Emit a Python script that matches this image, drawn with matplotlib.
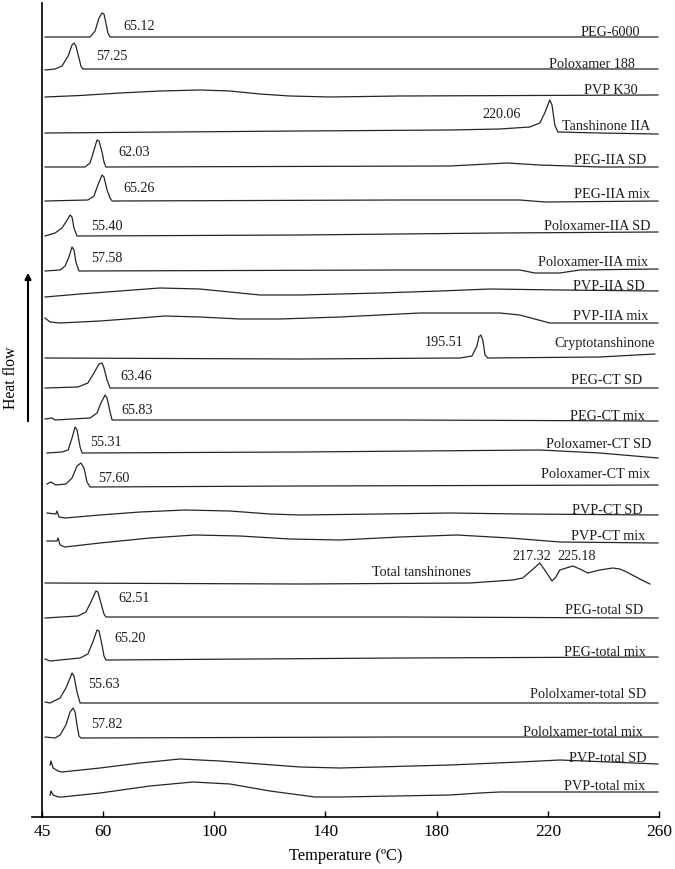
# DSC thermograms, stacked traces (tanshinones / carrier dispersions)
import matplotlib
matplotlib.use("Agg")
import matplotlib.pyplot as plt

plt.rcParams['font.family'] = ['Liberation Serif', 'DejaVu Serif']

# ---- data: temperature (axis units) and stacked heat-flow values per trace ----
peg6000_t = [39.1, 51.7, 55.3, 57.1, 58.5, 59.6, 60.3, 61.0, 61.7, 62.5, 94.8, 166.8, 259.6]
peg6000_y = [780, 780, 780, 786, 799, 804, 803, 794, 784, 780, 780, 780, 780]

polox188_t = [39.1, 42.7, 45.2, 47.4, 48.8, 49.5, 50.2, 51.3, 52.0, 52.7, 130.8, 259.6]
polox188_y = [747, 748, 751, 761, 772, 774, 771, 759, 751, 748, 748, 748]

pvpk30_t = [39.1, 51.7, 66.1, 80.4, 94.8, 105.6, 116.4, 127.2, 141.6, 166.8, 259.6]
pvpk30_y = [720, 721.5, 724, 726, 727, 726, 723, 721, 720, 721, 722]

tan2a_t = [39.1, 130.8, 184.8, 202.7, 213.5, 217.1, 218.9, 220.7, 221.5, 222.5, 223.6, 238.7, 259.6]
tan2a_y = [684, 686, 687, 688, 690, 694, 704, 717, 712, 692, 685, 684, 683]

peg_2a_sd_t = [39.1, 53.5, 55.3, 56.7, 57.8, 58.5, 59.6, 60.3, 61.0, 184.8, 205.3, 217.1, 238.7, 259.6]
peg_2a_sd_y = [650, 650, 654, 667, 677, 676, 665, 655, 650, 651, 654, 652, 650, 650]

peg_2a_mix_t = [39.1, 54.5, 56.7, 58.1, 59.6, 60.3, 61.4, 62.5, 63.2, 166.8, 209.9, 218.9, 259.6]
peg_2a_mix_y = [616, 617, 621, 632, 642, 640, 627, 619, 616, 617, 617, 615, 616]

pol_2a_sd_t = [39.1, 42.7, 45.2, 46.6, 48.1, 48.8, 49.5, 50.6, 130.8, 202.7, 259.6]
pol_2a_sd_y = [581, 584, 589, 595, 602, 600, 589, 581, 582, 584, 585]

pol_2a_mix_t = [39.1, 44.5, 46.3, 47.7, 48.8, 49.5, 50.2, 51.3, 166.8, 209.9, 215.3, 224.3, 231.5, 259.6]
pol_2a_mix_y = [546, 547, 551, 560, 570, 567, 555, 546, 547, 547, 544, 544, 547, 548]

pvp_2a_sd_t = [39.1, 51.7, 66.1, 80.4, 94.8, 105.6, 116.4, 130.8, 159.6, 181.2, 199.2, 224.3, 259.6]
pvp_2a_sd_y = [520, 523, 526, 529, 528, 525, 522, 522, 524, 526, 528, 527, 526]

pvp_2a_mix_t = [39.1, 40.9, 44.5, 58.9, 73.3, 82.2, 94.8, 109.2, 123.6, 145.2, 174.0, 202.7,
                209.9, 215.3, 220.7, 259.6]
pvp_2a_mix_y = [499, 495, 494, 496, 499, 501, 500, 498, 498, 500, 504, 504,
                502, 498, 494, 494]

crypto_t = [39.1, 130.8, 188.4, 192.7, 194.5, 195.2, 195.9, 196.6, 197.4, 198.4, 238.7, 258.5]
crypto_y = [459, 458, 459, 461, 471, 480, 482, 477, 462, 459, 460, 463]

peg_ct_sd_t = [39.1, 50.9, 54.5, 56.7, 58.5, 59.6, 60.3, 61.4, 62.5, 166.8, 259.6]
peg_ct_sd_y = [429, 430, 434, 444, 453, 454, 449, 437, 429, 429, 429]

peg_ct_mix_t = [39.1, 41.6, 42.7, 55.3, 57.8, 59.2, 60.7, 61.4, 62.5, 63.2, 166.8, 259.6]
peg_ct_mix_y = [398, 399, 397, 399, 404, 414, 422, 419, 405, 397, 397, 396]

pol_ct_sd_t = [39.8, 45.2, 47.4, 48.8, 49.9, 50.6, 51.7, 52.4, 130.8, 217.1, 238.7, 259.6]
pol_ct_sd_y = [364, 365, 367, 379, 390, 387, 370, 364, 365, 367, 364, 359]

pol_ct_mix_t = [39.8, 41.2, 43.0, 46.6, 48.8, 50.6, 52.0, 53.1, 54.2, 55.3, 130.8, 259.6]
pol_ct_mix_y = [333, 335, 332, 333, 339, 351, 354, 349, 335, 330, 331, 332]

pvp_ct_sd_t = [39.8, 43.0, 43.4, 44.1, 46.3, 58.9, 73.3, 89.4, 105.6, 120.0, 130.8, 159.6,
               184.8, 209.9, 259.6]
pvp_ct_sd_y = [304, 303, 306, 300, 299, 302, 305, 307, 306, 303, 302, 303,
               304, 303, 302]

pvp_ct_mix_t = [39.8, 43.4, 43.8, 44.5, 46.3, 58.9, 76.8, 93.0, 109.2, 127.2, 145.2, 166.8,
                187.3, 206.3, 224.3, 259.6]
pvp_ct_mix_y = [276, 276, 279, 272, 270, 274, 279, 282, 281, 278, 277, 280,
                282, 279, 275, 274]

total_t = [39.1, 130.8, 192.0, 207.4, 211.0, 214.3, 217.1, 218.9, 221.5, 222.9, 224.3, 229.0,
           231.5, 234.4, 238.7, 243.4, 245.9, 248.4, 253.1, 256.7]
total_y = [234, 233, 234, 237, 239, 247, 254, 247, 236, 240, 247, 251,
           248, 244, 247, 249, 248, 245, 238, 233]

peg_tot_sd_t = [39.1, 50.9, 53.8, 55.6, 57.4, 58.1, 59.2, 60.3, 61.0, 166.8, 259.6]
peg_tot_sd_y = [199, 201, 205, 215, 226, 225, 214, 203, 200, 200, 199]

peg_tot_mix_t = [39.1, 40.9, 51.7, 54.5, 56.3, 57.8, 58.5, 59.6, 60.3, 61.0, 166.8, 259.6]
peg_tot_mix_y = [158, 156, 159, 163, 175, 187, 186, 172, 161, 157, 159, 160]

pol_tot_sd_t = [39.1, 40.9, 44.5, 46.6, 48.1, 48.8, 49.5, 50.6, 51.7, 166.8, 259.6]
pol_tot_sd_y = [115, 114, 119, 129, 139, 144, 141, 125, 114, 114, 114]

pol_tot_mix_t = [39.1, 42.7, 44.5, 46.6, 48.1, 49.2, 49.9, 50.6, 51.3, 52.0, 166.8, 259.6]
pol_tot_mix_y = [80, 79, 82, 92, 105, 109, 105, 92, 81, 79, 80, 80]

pvp_tot_sd_t = [40.9, 41.2, 42.0, 43.8, 45.2, 58.9, 73.3, 87.6, 102.0, 116.4, 130.8, 145.2,
                184.8, 209.9, 224.3, 259.6]
pvp_tot_sd_y = [52, 56, 49, 46, 45, 49, 54, 58, 56, 53, 50, 49,
                52, 55, 57, 53]

pvp_tot_mix_t = [40.9, 41.2, 42.0, 43.8, 45.2, 58.9, 76.8, 92.3, 105.6, 120.0, 136.2, 145.2,
                 184.8, 195.6, 202.7, 259.6]
pvp_tot_mix_y = [22, 26, 22, 20, 20, 24, 31, 35, 33, 26, 20, 20,
                 22, 24, 25, 25]

curves = [
    (peg6000_t, peg6000_y), (polox188_t, polox188_y), (pvpk30_t, pvpk30_y),
    (tan2a_t, tan2a_y), (peg_2a_sd_t, peg_2a_sd_y), (peg_2a_mix_t, peg_2a_mix_y),
    (pol_2a_sd_t, pol_2a_sd_y), (pol_2a_mix_t, pol_2a_mix_y), (pvp_2a_sd_t, pvp_2a_sd_y),
    (pvp_2a_mix_t, pvp_2a_mix_y), (crypto_t, crypto_y), (peg_ct_sd_t, peg_ct_sd_y),
    (peg_ct_mix_t, peg_ct_mix_y), (pol_ct_sd_t, pol_ct_sd_y), (pol_ct_mix_t, pol_ct_mix_y),
    (pvp_ct_sd_t, pvp_ct_sd_y), (pvp_ct_mix_t, pvp_ct_mix_y), (total_t, total_y),
    (peg_tot_sd_t, peg_tot_sd_y), (peg_tot_mix_t, peg_tot_mix_y),
    (pol_tot_sd_t, pol_tot_sd_y), (pol_tot_mix_t, pol_tot_mix_y),
    (pvp_tot_sd_t, pvp_tot_sd_y), (pvp_tot_mix_t, pvp_tot_mix_y),
]

# sample names, placed at the right end of each trace
sample_names = ["PEG-6000", "Poloxamer 188", "PVP K30", "Tanshinone IIA", "PEG-IIA SD",
                "PEG-IIA mix", "Poloxamer-IIA SD", "Poloxamer-IIA mix", "PVP-IIA SD",
                "PVP-IIA mix", "Cryptotanshinone", "PEG-CT SD", "PEG-CT mix",
                "Poloxamer-CT SD", "Poloxamer-CT mix", "PVP-CT SD", "PVP-CT mix",
                "PEG-total SD", "PEG-total mix", "Pololxamer-total SD",
                "Pololxamer-total mix", "PVP-total SD", "PVP-total mix"]
name_x = [253.1, 251.3, 252.4, 256.7, 255.3, 256.7, 257.1, 256.0, 254.9, 256.0, 258.5,
          253.8, 254.9, 257.4, 256.7, 254.2, 254.9, 254.2, 255.3, 255.3, 254.2, 255.6, 254.9]
name_y = [784, 753, 726, 691, 657, 622, 591, 554, 531, 500, 473, 436, 401, 372, 342,
          307, 280, 206, 165, 123, 85, 59, 30]

# melting peak temperatures written next to the peaks
peak_text = ["65.12", "57.25", "220.06", "62.03", "65.26", "55.40", "57.58", "195.51",
             "63.46", "65.83", "55.31", "57.60", "217.32", "225.18",
             "62.51", "65.20", "55.63", "57.82"]
peak_x = [72.9, 63.2, 203.5, 71.1, 72.9, 61.4, 61.4, 182.6, 71.8, 72.2, 61.0, 63.9,
          214.3, 230.4, 71.1, 69.7, 60.3, 61.4]
peak_y = [791, 761, 702, 665, 629, 591, 558, 474, 441, 406, 374, 339, 260, 260,
          218, 178, 133, 92]

ticks = [38, 60, 100, 140, 180, 220, 260]
tick_labels = ["45", "60", "100", "140", "180", "220", "260"]

# ---- plot ----
fig = plt.figure(figsize=(6.75, 8.69), dpi=100)
ax = fig.add_axes([32 / 675, 52 / 869, 627 / 675, 814 / 869])
line_col = "#262626"
txt_col = "#1e1e1e"

for t, y in curves:
    ax.plot(t, y, color=line_col, lw=0.9)

for name, x, y in zip(sample_names, name_x, name_y):
    ax.text(x, y, name, ha="right", va="center", fontsize=10.2, color=txt_col)

for s, x, y in zip(peak_text, peak_x, peak_y):
    ax.text(x, y, s, ha="center", va="center", fontsize=10.2, color=txt_col)

ax.text(174.7, 244, "Total tanshinones", ha="center", va="center", fontsize=10.2,
        color=txt_col)

ax.set_xlim(34.4, 260)
ax.set_ylim(0, 814)
ax.spines["top"].set_visible(False)
ax.spines["right"].set_visible(False)
ax.spines["left"].set_position(("data", 38))
ax.spines["left"].set_linewidth(1.2)
ax.spines["bottom"].set_linewidth(1.2)

ax.set_xticks(ticks)
ax.set_xticklabels(tick_labels)
ax.tick_params(axis="x", direction="in", length=4, width=1, labelsize=12.5, pad=5)
ax.set_yticks([])
ax.set_xlabel("Temperature (ºC)", fontsize=11.8, labelpad=6)

# heat flow label with upward arrow, outside the axes
fig.text(11 / 675, 1 - 378 / 869, "Heat flow", rotation=90, ha="center", va="center",
         fontsize=11.3)
ax.annotate("", xy=(28 / 675, 1 - 270 / 869), xytext=(28 / 675, 1 - 424 / 869),
            xycoords="figure fraction", textcoords="figure fraction",
            arrowprops=dict(arrowstyle="-|>", color="black", lw=1.5, mutation_scale=9))

fig.savefig("out.png", dpi=100)
